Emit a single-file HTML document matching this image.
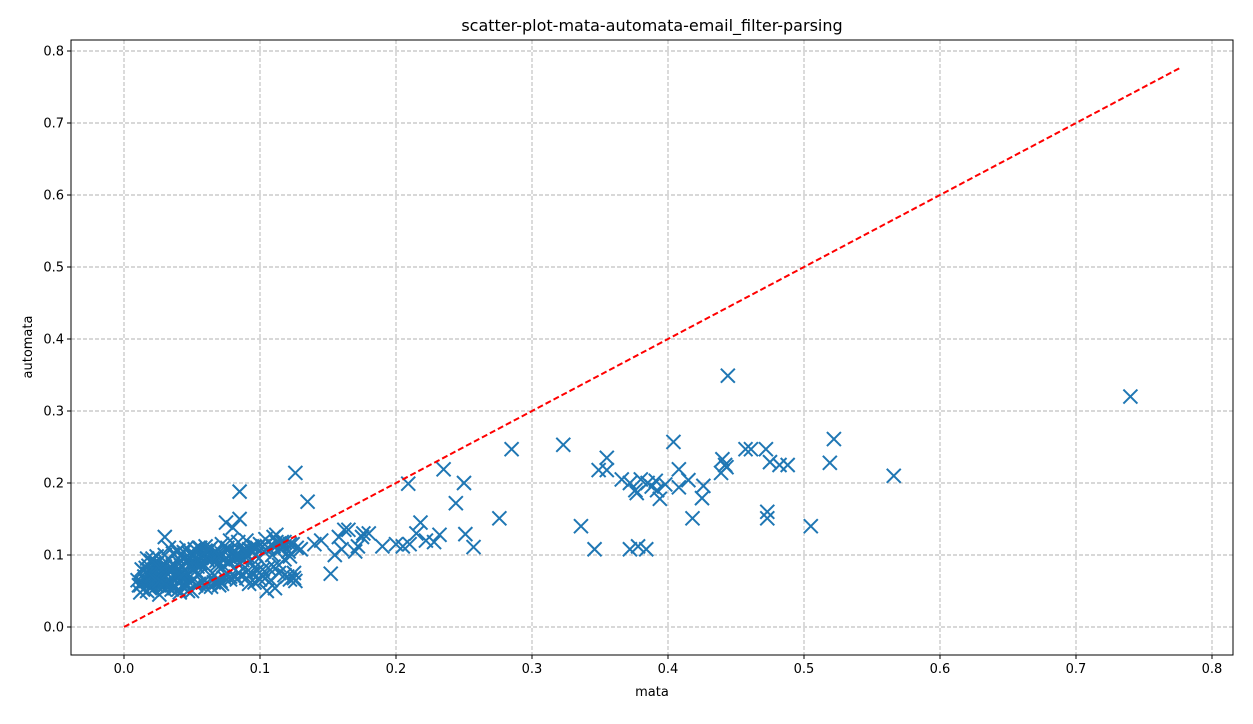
<!DOCTYPE html>
<html><head><meta charset="utf-8"><style>
body{margin:0;background:#fff;font-family:"Liberation Sans","DejaVu Sans",sans-serif}
svg text{font-family:"DejaVu Sans","Liberation Sans",sans-serif}
</style></head><body>
<svg id="chart" width="1253" height="719" xmlns="http://www.w3.org/2000/svg">
<rect width="1253" height="719" fill="#fff"/>
<text x="652" y="31" font-size="16" text-anchor="middle">scatter-plot-mata-automata-email_filter-parsing</text>
<g id="grid"></g><g id="marks"></g><g id="axes"></g>
<text x="652" y="696" font-size="13" text-anchor="middle">mata</text>
<text x="32" y="347" font-size="13" text-anchor="middle" transform="rotate(-90 32 347)">automata</text>
</svg>
<script>
const xTicks=[0,0.1,0.2,0.3,0.4,0.5,0.6,0.7,0.8];
const yTicks=[0,0.1,0.2,0.3,0.4,0.5,0.6,0.7,0.8];
const tickLabels=["0.0","0.1","0.2","0.3","0.4","0.5","0.6","0.7","0.8"];
const mataVals=[0.740,0.444,0.522,0.519,0.566,0.505,0.473,0.473,0.457,0.461,0.472,0.475,0.482,0.488,0.440,0.442,0.439,0.443,0.404,0.408,0.408,0.415,0.418,0.426,0.425,0.323,0.355,0.349,0.355,0.336,0.346,0.372,0.378,0.384,0.366,0.372,0.376,0.380,0.385,0.388,0.391,0.394,0.398,0.377,0.392,0.285,0.276,0.235,0.209,0.250,0.244,0.251,0.257,0.126,0.085,0.135,0.152,
0.155,0.160,0.165,0.170,0.175,0.180,0.158,0.172,0.190,0.200,0.205,0.215,0.218,0.222,0.228,0.232,0.140,0.145,0.162,0.176,0.210,
0.010,0.012,0.015,0.018,0.020,0.022,0.025,0.028,0.030,0.012,0.016,0.019,0.023,0.026,0.029,0.032,0.035,0.038,0.040,0.014,0.018,0.021,0.024,0.027,0.031,0.034,0.037,0.042,0.045,0.048,0.050,0.053,0.056,0.060,0.044,0.047,0.052,0.055,0.058,0.062,0.065,0.068,0.070,0.073,0.076,0.079,0.082,0.085,0.088,0.091,0.094,0.097,0.100,0.103,0.106,0.109,0.112,0.115,0.118,0.121,0.124,0.127,0.130,0.064,0.068,0.072,0.078,0.084,0.090,0.096,0.102,0.108,0.114,0.120,0.125,0.030,0.033,0.036,0.040,0.045,0.050,0.055,0.060,0.066,0.072,0.078,0.084,0.090,0.096,0.104,0.110,0.116,0.122,0.075,0.080,0.085,0.030,0.028,0.060,0.070,0.092,0.098,0.104,0.112,0.118,0.125,0.050,0.055,0.041,0.035,0.022,0.026,0.017,0.024,0.039,0.046,0.057,0.063,0.069,0.081,0.087,0.093,0.099,0.105,0.111,
0.011,0.013,0.015,0.017,0.019,0.021,0.023,0.025,0.027,0.029,0.031,0.033,0.035,0.037,0.039,0.041,0.043,0.013,0.016,0.019,0.022,0.025,0.028,0.031,0.034,0.037,0.040,0.043,0.046,0.049,0.052,0.020,0.024,0.028,0.032,0.036,0.040,0.044,0.048,0.052,0.056,0.060,0.064,0.068,0.072,0.076,0.080,0.084,0.088,0.092,0.096,0.100,0.015,0.018,0.022,0.026,0.030,0.034,0.038,0.042,0.046,0.050,0.054,0.058,0.062,0.066,0.070,0.074,0.078,0.082,0.086,0.090,0.094,0.098,0.102,0.106,0.110,0.114,0.118,0.122,0.126,0.058,0.062,0.066,0.070,0.074,0.078,0.082,0.086,0.090,0.094,0.098,0.102,0.106,0.110,0.114,0.118,0.122,0.036,0.040,0.044,0.048,0.052,0.056,0.060,0.064,0.068,0.072,0.014,0.017,0.020,0.023,0.026,0.029,0.032,0.035,0.045,0.053,0.061,0.071,0.083,0.095,0.107];
const automataVals=[0.320,0.349,0.261,0.228,0.210,0.140,0.160,0.151,0.247,0.247,0.247,0.229,0.225,0.225,0.233,0.225,0.214,0.222,0.257,0.219,0.194,0.204,0.151,0.196,0.179,0.253,0.235,0.218,0.218,0.140,0.108,0.108,0.112,0.108,0.205,0.200,0.190,0.205,0.200,0.195,0.203,0.178,0.198,0.186,0.190,0.247,0.151,0.219,0.199,0.200,0.172,0.129,0.111,0.214,0.188,0.174,0.074,
0.100,0.108,0.135,0.105,0.125,0.130,0.125,0.112,0.112,0.115,0.112,0.130,0.145,0.120,0.118,0.128,0.115,0.120,0.135,0.130,0.115,
0.065,0.058,0.070,0.062,0.055,0.068,0.060,0.075,0.052,0.048,0.064,0.072,0.080,0.058,0.066,0.074,0.062,0.070,0.078,0.052,0.085,0.095,0.057,0.068,0.090,0.080,0.058,0.085,0.070,0.092,0.065,0.078,0.088,0.100,0.060,0.050,0.095,0.072,0.082,0.105,0.075,0.092,0.100,0.085,0.110,0.095,0.105,0.090,0.108,0.098,0.112,0.100,0.115,0.105,0.110,0.100,0.118,0.108,0.112,0.105,0.115,0.110,0.108,0.056,0.062,0.060,0.070,0.075,0.068,0.082,0.070,0.065,0.075,0.070,0.068,0.125,0.110,0.088,0.095,0.068,0.100,0.110,0.112,0.102,0.115,0.120,0.118,0.120,0.112,0.122,0.125,0.118,0.115,0.145,0.138,0.150,0.100,0.085,0.055,0.058,0.060,0.078,0.068,0.128,0.072,0.075,0.050,0.060,0.048,0.082,0.088,0.045,0.095,0.098,0.105,0.110,0.096,0.108,0.102,0.098,0.093,0.090,0.095,
0.050,0.054,0.058,0.062,0.066,0.050,0.054,0.058,0.062,0.066,0.070,0.056,0.060,0.064,0.068,0.072,0.076,0.072,0.076,0.080,0.082,0.078,0.074,0.070,0.066,0.062,0.058,0.054,0.052,0.056,0.060,0.088,0.090,0.092,0.088,0.084,0.080,0.086,0.090,0.094,0.096,0.100,0.098,0.096,0.100,0.104,0.102,0.106,0.104,0.100,0.104,0.108,0.062,0.066,0.070,0.074,0.078,0.082,0.084,0.080,0.076,0.072,0.076,0.080,0.084,0.088,0.092,0.096,0.098,0.094,0.090,0.094,0.098,0.102,0.106,0.110,0.112,0.110,0.112,0.116,0.118,0.066,0.064,0.062,0.060,0.062,0.064,0.068,0.066,0.070,0.072,0.076,0.074,0.078,0.080,0.082,0.084,0.086,0.094,0.098,0.102,0.106,0.104,0.102,0.108,0.110,0.106,0.110,0.086,0.082,0.078,0.074,0.070,0.066,0.064,0.060,0.056,0.052,0.054,0.058,0.062,0.064,0.066];
const refLine=[0,0.777];
const L=71,R=1233,T=40,B=655;
const xs=v=>124+v*1360, ys=v=>627-v*720;
const NS="http://www.w3.org/2000/svg";
function mk(tag,attrs,parent){const e=document.createElementNS(NS,tag);for(const k in attrs)e.setAttribute(k,attrs[k]);parent.appendChild(e);return e;}
const grid=document.getElementById('grid'),marks=document.getElementById('marks'),axes=document.getElementById('axes');
xTicks.forEach((t,i)=>{
 const g=mk('line',{x1:xs(t),x2:xs(t),y1:T,y2:B,stroke:'#b0b0b0','stroke-dasharray':'4,2','stroke-width':0.9},grid);
 
 
 mk('line',{x1:xs(t),x2:xs(t),y1:B,y2:B+4,stroke:'#000'},axes);
 const tx=mk('text',{x:xs(t),y:B+18,'font-size':13,'text-anchor':'middle'},axes);tx.textContent=tickLabels[i];
 
 
});
yTicks.forEach((t,i)=>{
 const g=mk('line',{x1:L,x2:R,y1:ys(t),y2:ys(t),stroke:'#b0b0b0','stroke-dasharray':'4,2','stroke-width':0.9},grid);
 
 
 mk('line',{x1:L-4,x2:L,y1:ys(t),y2:ys(t),stroke:'#000'},axes);
 const tx=mk('text',{x:L-7,y:ys(t)+4.5,'font-size':13,'text-anchor':'end'},axes);tx.textContent=tickLabels[i];
 
 
});
const frame=mk('rect',{x:L,y:T,width:R-L,height:B-T,fill:'none',stroke:'#000','stroke-width':1},axes);


mataVals.forEach((m,i)=>{
 const cx=xs(m),cy=ys(automataVals[i]),s=7;
 const p=mk('path',{d:`M${cx-s},${cy-s}L${cx+s},${cy+s}M${cx-s},${cy+s}L${cx+s},${cy-s}`,stroke:'#1f77b4','stroke-width':2,fill:'none'},marks);
 
 
});
const rl=mk('line',{x1:xs(refLine[0]),y1:ys(refLine[0]),x2:xs(refLine[1]),y2:ys(refLine[1]),stroke:'#ff0000','stroke-width':2,'stroke-dasharray':'6,3'},marks);


</script>
</body></html>
